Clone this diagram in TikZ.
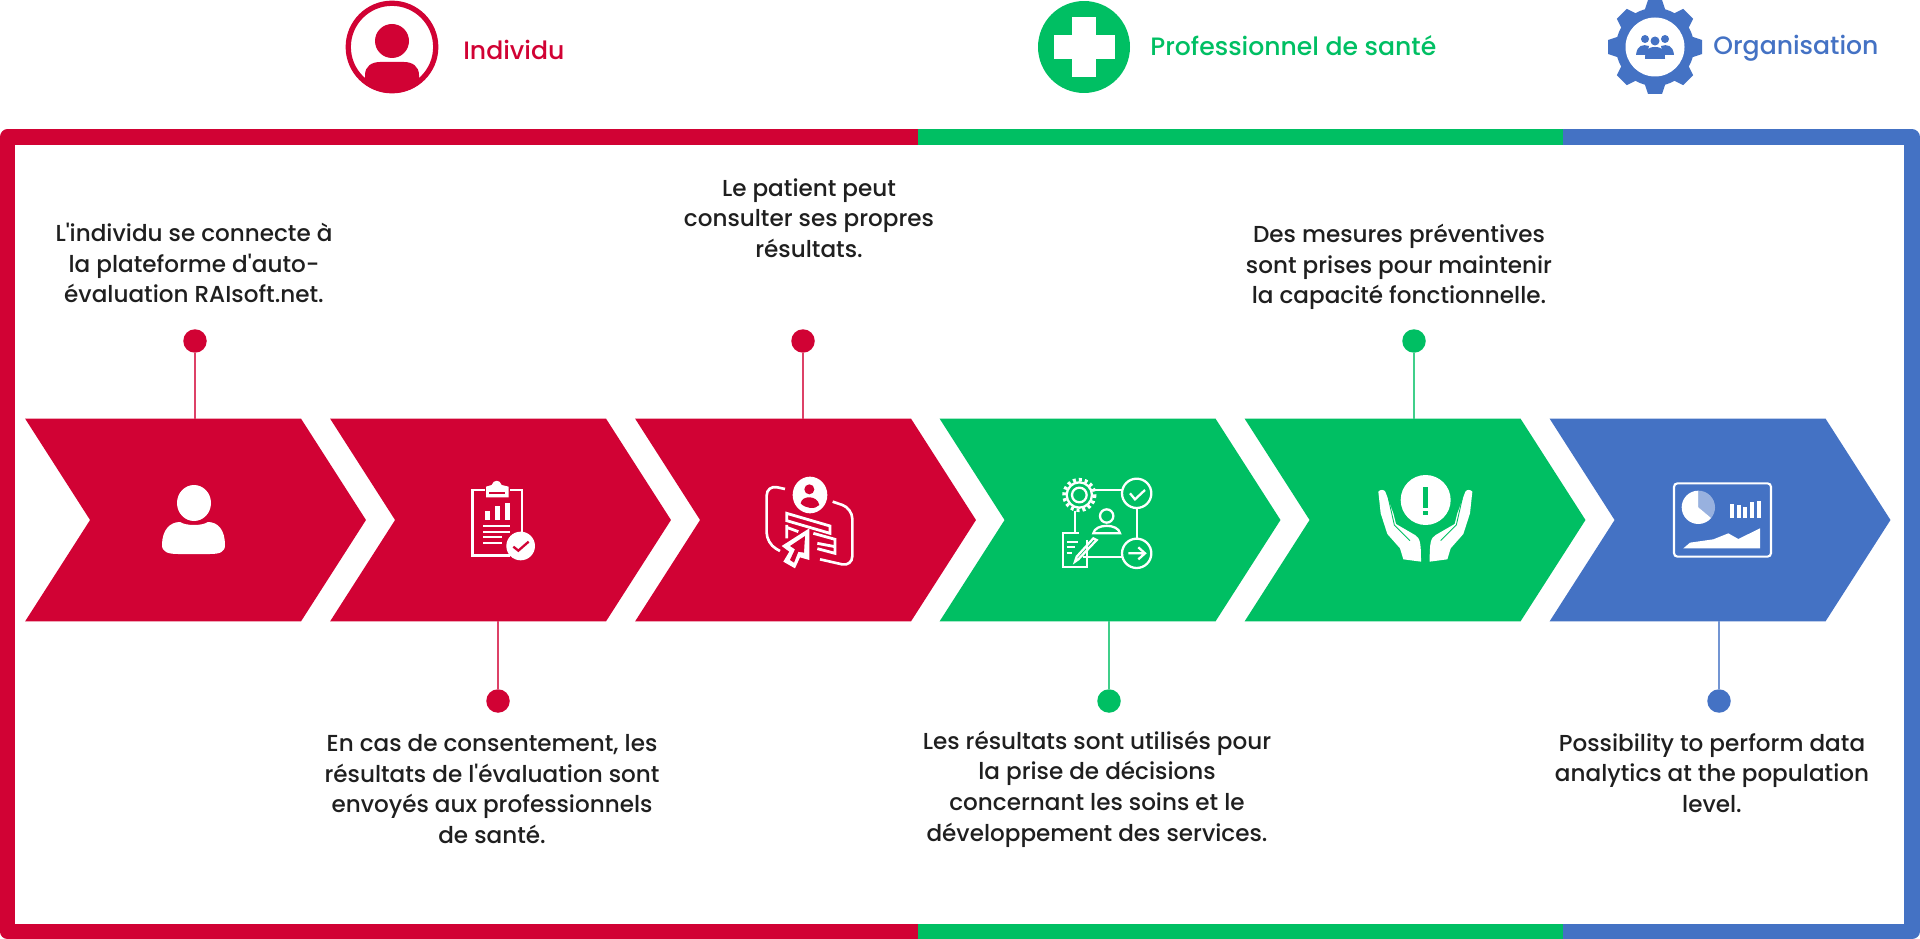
\documentclass[tikz,border=0pt]{standalone}
\usepackage{fontspec}
\setmainfont{Poppins Medium}[Ligatures = TeXOff]
\usetikzlibrary{shapes.symbols}

\begin{document}
\begin{tikzpicture}
[x = 0.02cm, y = -0.02cm, line cap = butt,
chevron/.style = {signal, signal to = east, signal from = west, signal pointer angle = 114.7, minimum width = 6.82cm, minimum height = 4.06cm, inner sep = 0pt, outer sep = 0pt},
dot/.style = {circle, minimum size = 0.47cm, inner sep = 0pt},
link/.style = {line width = 1pt},
frame line/.style = {line width = 8.7pt, line join = round},
step text/.style = {align = center, text = black!88, font = \fontsize{13.15}{17.4}\selectfont},
head text/.style = {anchor = west, inner sep = 0pt, font = \fontsize{14.3}{17}\selectfont},
zoomed/.style = {x = 0.00667cm, y = -0.00667cm},
icon line/.style = {draw = white, line width = 1.3pt, fill = none}]

\definecolor{redcolor}{HTML}{D10234}
\definecolor{greencolor}{HTML}{00BF63}
\definecolor{bluecolor}{HTML}{4472C4}

\useasboundingbox (0, 0) rectangle (1920, 939);

% frame
\draw[frame line, redcolor] (918, 137) -- (7.5, 137) -- (7.5, 931.5) -- (918, 931.5);
\draw[frame line, greencolor] (918, 137) -- (1563, 137);
\draw[frame line, greencolor] (918, 931.5) -- (1563, 931.5);
\draw[frame line, bluecolor] (1563, 137) -- (1912, 137) -- (1912, 931.5) -- (1563, 931.5);

% header
\begin{scope}[shift = {(392, 47)}]
\clip (0, 0) circle [radius = 46];
\fill[redcolor] (-27, 46) -- (-27, 28) .. controls (-27, 19) and (-20, 15) .. (-12, 15) -- (12, 15) .. controls (20, 15) and (27, 19) .. (27, 28) -- (27, 46) -- cycle;
\end{scope}
\node[circle, draw = redcolor, line width = 3pt, minimum size = 1.75cm, inner sep = 0pt] (individu) at (392, 47) {};
\fill[redcolor] (392, 41) circle [radius = 17];
\node[head text, text = redcolor] (individu text) at (463, 50) {Individu};

\node[circle, fill = greencolor, minimum size = 1.84cm, inner sep = 0pt] (sante) at (1084, 47) {};
\fill[white] (1072, 17) rectangle (1096, 77);
\fill[white] (1054, 35) rectangle (1115, 59);
\node[head text, text = greencolor] (sante text) at (1150, 46) {Professionnel de santé};

\begin{scope}[shift = {(1655, 47)}]
\foreach \a in {0, 45, ..., 315} \fill[bluecolor, rotate = \a] (-11, -35) -- (-7, -47) -- (7, -47) -- (11, -35) -- cycle;
\fill[bluecolor] (0, 0) circle [radius = 39];
\fill[white] (0, 0) circle [radius = 29.5];
\foreach \x/\y/\r in {-10/-8/4, 10/-8/4, 0/-6/4.5} \fill[bluecolor] (\x, \y) circle [radius = \r];
\fill[bluecolor] (-19, 8) .. controls (-18, -2) and (-12, -3) .. (-6, -1) -- (-8, 8) -- cycle;
\fill[bluecolor] (19, 8) .. controls (18, -2) and (12, -3) .. (6, -1) -- (8, 8) -- cycle;
\fill[bluecolor] (-10, 12) .. controls (-10, 1) and (-5, 0) .. (0, 0) .. controls (5, 0) and (10, 1) .. (10, 12) -- cycle;
\end{scope}
\node[head text, text = bluecolor] (organisation text) at (1713, 48) {Organisation};

% chevrons, dots and links
\foreach \n/\x/\col/\dotx/\doty/\side in {1/195.5/redcolor/195/341/north, 2/500.5/redcolor/498/701/south, 3/805.5/redcolor/803/341/north, 4/1110/greencolor/1109/701/south, 5/1415/greencolor/1414/341/north, 6/1720/bluecolor/1719/701/south}
{
\node[chevron, fill = \col] (c\n) at (\x, 520) {};
\node[dot, fill = \col] (d\n) at (\dotx, \doty) {};
\draw[link, \col!75] (d\n) -- (d\n |- c\n.\side);
}

% texts
\node[step text] (t1) at (194, 263) {L'individu se connecte à\\la plateforme d'auto-\\évaluation RAIsoft.net.};
\node[step text] (t2) at (492, 789) {En cas de consentement, les\\résultats de l'évaluation sont\\envoyés aux professionnels\\de santé.};
\node[step text] (t3) at (809, 218) {Le patient peut\\consulter ses propres\\résultats.};
\node[step text] (t4) at (1097, 789) {Les résultats sont utilisés pour\\la prise de décisions\\concernant les soins et le\\développement des services.};
\node[step text] (t5) at (1399, 267) {Des mesures préventives\\sont prises pour maintenir\\la capacité fonctionnelle.};
\node[step text] (t6) at (1712, 773) {Possibility to perform data\\analytics at the population\\level.};

% icon 1
\fill[white] (194, 503) circle [x radius = 17, y radius = 18];
\fill[white] (162, 545) .. controls (162, 530) and (170, 522) .. (180, 522) .. controls (186, 526) and (202, 526) .. (208, 522) .. controls (218, 522) and (225, 530) .. (225, 545) .. controls (225, 552) and (220, 554) .. (210, 554) -- (178, 554) .. controls (168, 554) and (162, 552) .. (162, 545) -- cycle;

% icon 2
\begin{scope}[shift = {(430, 440)}, zoomed]
\draw[icon line, line width = 1.5pt] (165, 150) -- (128, 150) -- (128, 347) -- (240, 347);
\draw[icon line, line width = 1.5pt] (240, 150) -- (276, 150) -- (276, 280);
\fill[white] (168, 172) -- (168, 140) -- (185, 135) .. controls (190, 118) and (210, 118) .. (215, 135) -- (236, 140) -- (236, 172) -- cycle;
\fill[redcolor] (178, 155) rectangle (226, 162);
\foreach \x/\t in {165/212, 195/198, 225/188} \fill[white] (\x, \t) rectangle ++(14, 240 - \t);
\foreach \y/\w in {255/80, 274/80, 289/55, 306/55} \fill[white] (160, \y) rectangle ++(\w, 5);
\fill[white] (272, 318) circle [radius = 43];
\draw[redcolor, line width = 1.3pt] (250, 320) -- (265, 332) -- (296, 305);
\end{scope}

% icon 3
\begin{scope}[shift = {(730, 450)}, zoomed]
\draw[icon line, line width = 1.5pt, rounded corners = 6pt] (165, 117) -- (110, 105) -- (110, 280) -- (150, 303);
\draw[icon line, line width = 1.5pt, rounded corners = 6pt] (308, 155) -- (367, 175) -- (367, 350) -- (270, 328);
\fill[white] (240, 135) circle [x radius = 52, y radius = 55];
\fill[redcolor] (238, 118) circle [radius = 15];
\fill[redcolor] (212, 160) .. controls (215, 135) and (262, 135) .. (268, 165) .. controls (255, 180) and (225, 175) .. (212, 160) -- cycle;
\draw[icon line, line width = 1.6pt] (170, 190) -- (300, 228) -- (300, 250) -- (170, 212) -- cycle;
\draw[icon line, line width = 1.6pt] (250, 250) -- (315, 268) -- (315, 310) -- (262, 296);
\draw[icon line, line width = 1.6pt] (262, 280) -- (315, 290);
\draw[icon line, line width = 1.6pt] (170, 225) -- (170, 265) (170, 232) -- (205, 245);
\fill[white] (238, 235) -- (155, 288) -- (178, 305) -- (160, 335) -- (195, 355) -- (210, 322) -- (238, 330) -- cycle;
\fill[redcolor] (225, 258) -- (180, 288) -- (195, 298) -- (180, 330) -- (192, 338) -- (205, 305) -- (222, 308) -- cycle;
\end{scope}

% icon 4
\begin{scope}[shift = {(1040, 460)}, zoomed]
\draw[white, line width = 2pt, dash pattern = on 1.7pt off 1.7pt] (118, 105) circle [radius = 46];
\draw[icon line] (118, 105) circle [radius = 38];
\draw[icon line] (118, 105) circle [radius = 22];
\draw[icon line] (290, 100) circle [radius = 44];
\draw[icon line] (290, 280) circle [radius = 44];
\draw[icon line] (165, 90) -- (246, 90) (290, 145) -- (290, 236) (130, 290) -- (246, 290) (105, 152) -- (105, 220);
\draw[icon line] (140, 240) -- (140, 320) -- (68, 320) -- (68, 220) -- (118, 220);
\draw[icon line] (80, 245) -- (115, 245) (80, 262) -- (105, 262) (80, 280) -- (95, 280);
\draw[icon line] (170, 240) -- (115, 298) -- (105, 305) -- (110, 290) -- (160, 235) -- cycle;
\draw[icon line] (200, 168) circle [radius = 20];
\draw[icon line] (160, 220) .. controls (165, 190) and (235, 190) .. (240, 220) -- cycle;
\draw[icon line] (270, 100) -- (285, 118) -- (315, 90);
\draw[icon line] (265, 280) -- (312, 280) (295, 262) -- (315, 280) -- (295, 298);
\end{scope}

% icon 5
\begin{scope}[shift = {(1360, 470)}, zoomed]
\fill[white] (197, 90) circle [radius = 75];
\fill[greencolor] (189, 52) rectangle (205, 115);
\fill[greencolor] (189, 122) rectangle (205, 135);
\foreach \s/\m in {1/0, -1/392}
{
\fill[white] (\m + \s * 55, 65) .. controls (\m + \s * 60, 58) and (\m + \s * 72, 58) .. (\m + \s * 76, 65) -- (\m + \s * 100, 130) -- (\m + \s * 108, 162) -- (\m + \s * 165, 195) .. controls (\m + \s * 180, 205) and (\m + \s * 183, 215) .. (\m + \s * 183, 275) -- (\m + \s * 130, 268) -- (\m + \s * 120, 235) -- (\m + \s * 82, 192) -- (\m + \s * 62, 130) -- cycle;
\draw[greencolor, line width = 0.5pt] (\m + \s * 85, 85) -- (\m + \s * 103, 165) -- (\m + \s * 150, 212);
}
\end{scope}

% icon 6
\begin{scope}[shift = {(1660, 470)}, zoomed]
\draw[white, line width = 1.2pt, rounded corners = 2pt] (42, 40) rectangle (333, 260);
\fill[white!45!bluecolor] (115, 112) -- (115, 62) arc [start angle = -90, end angle = 40, radius = 50] -- cycle;
\fill[white] (115, 112) -- (115, 62) arc [start angle = -90, end angle = -320, radius = 50] -- cycle;
\foreach \x/\t in {210/102, 232/105, 250/112, 270/95, 290/93} \fill[white] (\x, \t) rectangle ++(12, 145 - \t);
\fill[white] (70, 235) -- (90, 218) -- (160, 208) -- (205, 190) -- (235, 207) -- (300, 175) -- (300, 235) -- cycle;
\end{scope}
\end{tikzpicture}
\end{document}
